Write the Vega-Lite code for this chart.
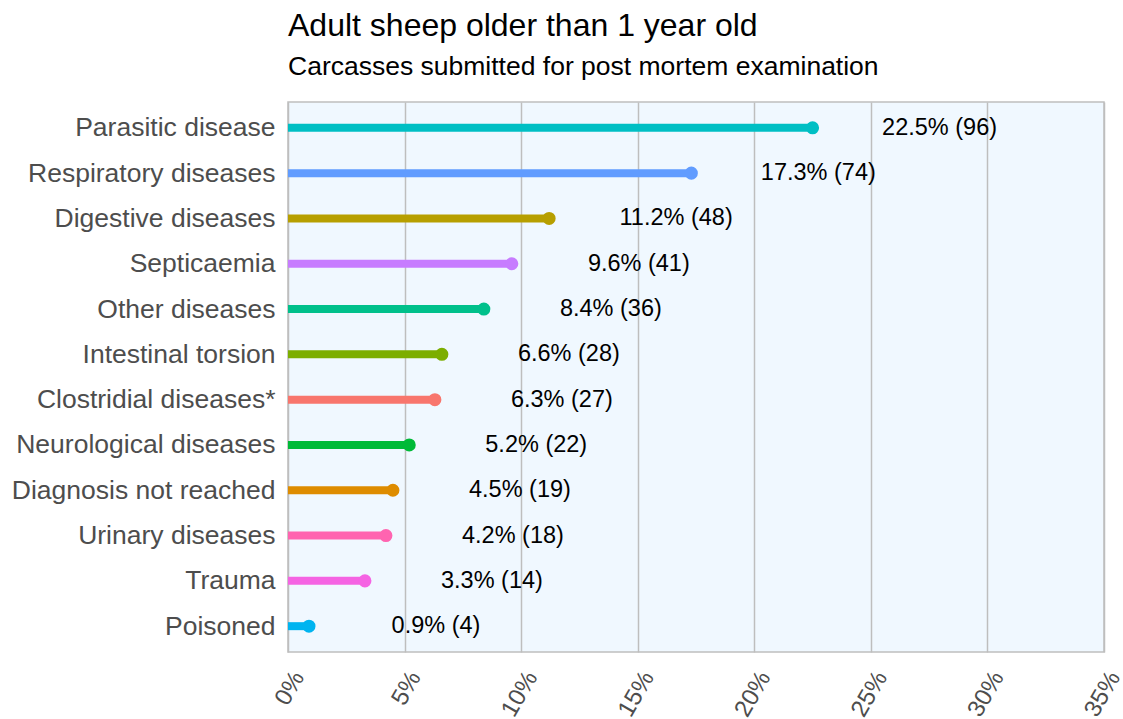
{
  "$schema": "https://vega.github.io/schema/vega-lite/v6.json",
  "autosize": {"type": "none"},
  "padding": {"left": 288, "top": 102, "right": 19, "bottom": 67},
  "width": 816,
  "height": 550,
  "background": "white",
  "title": {
    "text": "Adult sheep older than 1 year old",
    "subtitle": "Carcasses submitted for post mortem examination",
    "anchor": "start",
    "frame": "group",
    "font": "Liberation Sans",
    "fontSize": 32,
    "fontWeight": "normal",
    "color": "black",
    "subtitleFont": "Liberation Sans",
    "subtitleFontSize": 26.5,
    "subtitleColor": "black",
    "subtitlePadding": 11,
    "offset": 21
  },
  "config": {
    "view": {"fill": "#F0F8FF", "stroke": "#BEBEBE", "strokeWidth": 1.5},
    "font": "Liberation Sans"
  },
  "data": {
    "values": [
      {"cause": "Parasitic disease", "pct": 22.5, "n": 96, "label": "22.5% (96)"},
      {"cause": "Respiratory diseases", "pct": 17.3, "n": 74, "label": "17.3% (74)"},
      {"cause": "Digestive diseases", "pct": 11.2, "n": 48, "label": "11.2% (48)"},
      {"cause": "Septicaemia", "pct": 9.6, "n": 41, "label": "9.6% (41)"},
      {"cause": "Other diseases", "pct": 8.4, "n": 36, "label": "8.4% (36)"},
      {"cause": "Intestinal torsion", "pct": 6.6, "n": 28, "label": "6.6% (28)"},
      {"cause": "Clostridial diseases*", "pct": 6.3, "n": 27, "label": "6.3% (27)"},
      {"cause": "Neurological diseases", "pct": 5.2, "n": 22, "label": "5.2% (22)"},
      {"cause": "Diagnosis not reached", "pct": 4.5, "n": 19, "label": "4.5% (19)"},
      {"cause": "Urinary diseases", "pct": 4.2, "n": 18, "label": "4.2% (18)"},
      {"cause": "Trauma", "pct": 3.3, "n": 14, "label": "3.3% (14)"},
      {"cause": "Poisoned", "pct": 0.9, "n": 4, "label": "0.9% (4)"}
    ]
  },
  "encoding": {
    "x": {
      "field": "pct",
      "type": "quantitative",
      "scale": {"domain": [0, 35], "nice": false, "zero": true},
      "axis": {
        "title": null,
        "values": [0, 5, 10, 15, 20, 25, 30, 35],
        "labelExpr": "datum.value + '%'",
        "grid": true,
        "gridColor": "#BEBEBE",
        "gridWidth": 1.5,
        "gridOpacity": 1,
        "ticks": false,
        "domain": false,
        "labelAngle": -60,
        "labelAlign": "right",
        "labelBaseline": "top",
        "labelFontSize": 24,
        "labelColor": "#4D4D4D",
        "labelPadding": 15,
        "labelFont": "Liberation Sans",
        "labelOverlap": false,
        "labelBound": false
      }
    },
    "y": {
      "field": "cause",
      "type": "nominal",
      "sort": ["Parasitic disease", "Respiratory diseases", "Digestive diseases", "Septicaemia", "Other diseases", "Intestinal torsion", "Clostridial diseases*", "Neurological diseases", "Diagnosis not reached", "Urinary diseases", "Trauma", "Poisoned"],
      "scale": {"type": "point", "padding": 0.57},
      "axis": {
        "title": null,
        "ticks": false,
        "domain": false,
        "grid": false,
        "labelFontSize": 26.5,
        "labelColor": "#4D4D4D",
        "labelPadding": 13,
        "labelLimit": 400,
        "labelFont": "Liberation Sans"
      }
    }
  },
  "layer": [
    {
      "mark": {"type": "rule", "strokeWidth": 8, "strokeCap": "butt"},
      "encoding": {
        "x2": {"datum": 0},
        "color": {
          "field": "cause",
          "type": "nominal",
          "legend": null,
          "scale": {
            "domain": ["Clostridial diseases*", "Diagnosis not reached", "Digestive diseases", "Intestinal torsion", "Neurological diseases", "Other diseases", "Parasitic disease", "Poisoned", "Respiratory diseases", "Septicaemia", "Trauma", "Urinary diseases"],
            "range": ["#F8766D", "#DE8C00", "#B79F00", "#7CAE00", "#00BA38", "#00C08B", "#00BFC4", "#00B4F0", "#619CFF", "#C77CFF", "#F564E3", "#FF64B0"]
          }
        }
      }
    },
    {
      "mark": {"type": "point", "filled": true, "opacity": 1, "size": 170, "shape": "circle"},
      "encoding": {
        "color": {"field": "cause", "type": "nominal", "legend": null}
      }
    },
    {
      "mark": {"type": "text", "dx": 127, "align": "center", "baseline": "middle", "fontSize": 23.5, "color": "black", "font": "Liberation Sans"},
      "encoding": {
        "text": {"field": "label"}
      }
    }
  ]
}
